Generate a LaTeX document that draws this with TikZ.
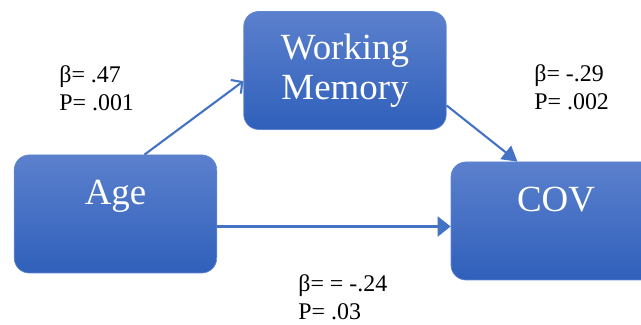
\documentclass[tikz,border=0pt]{standalone}
\usepackage{fontspec}
\setmainfont{Liberation Serif}
\usepackage{tikz}
\usetikzlibrary{arrows.meta,positioning,calc}
\definecolor{boxtop}{HTML}{5B80CD}
\definecolor{boxbottom}{HTML}{3060BB}
\definecolor{linkblue}{HTML}{4472C4}
\tikzset{
    varbox/.style={rounded corners=0.3cm, top color=boxtop, bottom color=boxbottom,
        draw=linkblue!85!white, line width=0.4pt, text=white, align=center,
        minimum width=4.05cm, minimum height=2.36cm, inner sep=0pt,
        font=\fontsize{21}{22.7}\selectfont},
    uptext/.style={text height=0.49cm, text depth=0.88cm},
    link/.style={linkblue, line width=1.2pt},
    coef/.style={anchor=north west, inner sep=0pt, align=left,
        font=\fontsize{13.6}{16.4}\selectfont}
}

\begin{document}
\begin{tikzpicture}
            \useasboundingbox (0,0) rectangle (12.82,6.5);
            \node[varbox, uptext] (age) at (2.31,2.22) {Age};
            \node[varbox] (wm) at (6.9,5.09) {Working\\Memory};
            \node[varbox, uptext, minimum width=4.2cm] (cov) at (11.12,2.08) {COV};
            \draw[link, -{Straight Barb[length=0.16cm, width=0.34cm]}] (age.64) -- (wm.186);
            \draw[link, -{Triangle[length=0.3cm, width=0.34cm]}] (wm.-19) -- (cov.123);
            \draw[link, -{Triangle[length=0.26cm, width=0.4cm]}] ([yshift=-0.25cm]age.east) -- ([yshift=-0.25cm]age.east -| cov.west);
            \node[coef] (awm) at (1.18,5.2) {β= .47\\P= .001};
            \node[coef] (wmcov) at (10.68,5.22) {β= -.29\\P= .002};
            \node[coef] (acov) at (5.96,1.02) {β= = -.24\\P= .03};
\end{tikzpicture}
\end{document}
